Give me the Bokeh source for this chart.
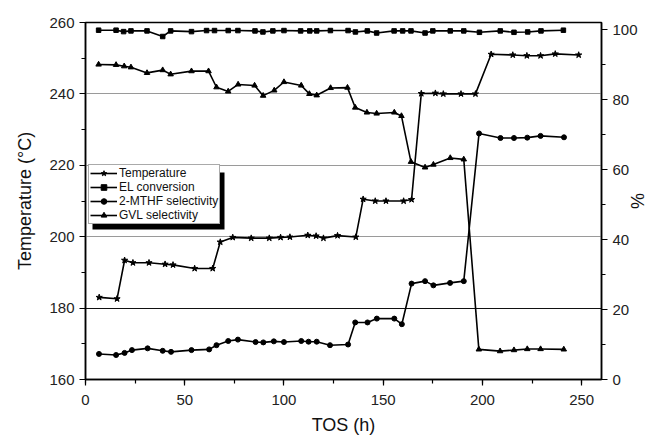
from bokeh.plotting import figure
from bokeh.models import (Range1d, LinearAxis, SingleIntervalTicker, Legend, LegendItem,
                          Grid, FixedTicker, BoxAnnotation)
from bokeh.embed import file_html
from bokeh.resources import INLINE

# ---- data ----
temp_t = [6.9, 15.9, 19.7, 23.9, 32, 40.1, 44.1, 55, 64.1, 67.9, 74.2, 83.5, 92.6, 98.3, 103,
          112, 116.2, 119.9, 127, 136.2, 139.9, 146, 151.4, 160.3, 164.3, 169.2, 176.3, 180.3,
          189.2, 196.5, 204.4, 215.3, 222.4, 229.3, 236.7, 248.5]
temp_c = [183.0, 182.6, 193.4, 192.7, 192.7, 192.3, 192.1, 191.1, 191.1, 198.5, 199.8, 199.6,
          199.6, 199.8, 199.9, 200.4, 200.2, 199.6, 200.3, 199.9, 210.5, 210.0, 210.0, 210.0,
          210.4, 240.1, 240.2, 240.0, 240.0, 240.0, 251.1, 250.9, 250.7, 250.7, 251.2, 250.9]

el_t = [6.6, 15.4, 19.2, 22.9, 31, 38.9, 42.9, 53.4, 61, 65, 71.9, 76.8, 85.4, 89.4, 94.4, 100,
        108.4, 113, 116.5, 123.4, 132.3, 136, 142, 146.7, 155.5, 159.8, 164, 171.1, 175, 183.8,
        190.6, 198.5, 209, 215.9, 222.8, 229.5, 240.8]
el_conv = [99.8, 99.8, 99.4, 99.6, 99.6, 98.0, 99.6, 99.4, 99.7, 99.7, 99.7, 99.7, 99.6, 99.3,
           99.6, 99.7, 99.6, 99.6, 99.6, 99.7, 99.7, 99.3, 99.6, 99.0, 99.6, 99.6, 99.6, 99.0,
           99.6, 99.6, 99.6, 99.2, 99.6, 99.2, 99.3, 99.6, 99.8]

mthf_t = [6.8, 15.4, 19.7, 23.4, 31.3, 38.9, 43.1, 53.4, 62.3, 66, 71.9, 76.8, 85.7, 89.6, 94.9,
          100, 108.7, 112.4, 116.5, 123.2, 132.3, 135.9, 142.1, 146.8, 155.6, 159.4, 164.3,
          171.1, 175.3, 183.7, 190.6, 198.3, 209.1, 215.9, 222.6, 229.3, 241.1]
mthf_sel = [7.3, 7.0, 7.6, 8.4, 8.9, 8.2, 7.9, 8.4, 8.6, 9.8, 11.0, 11.4, 10.7, 10.6, 10.9, 10.7,
            11.0, 10.8, 10.8, 9.8, 10.0, 16.3, 16.3, 17.4, 17.4, 15.8, 27.4, 28.1, 26.9, 27.6,
            28.1, 70.3, 69.0, 69.0, 69.1, 69.6, 69.2]

gvl_t = [6.6, 15.4, 19.5, 22.9, 31, 38.9, 42.9, 53.4, 62, 66, 71.9, 76.9, 85.2, 89.5, 95.1, 100,
         108.7, 112.8, 116.5, 123.5, 132, 135.9, 141.8, 146.7, 155.6, 159.2, 164, 171.1, 175.3,
         183.8, 190.6, 198.2, 208.9, 215.9, 222.6, 229.3, 241]
gvl_sel = [90.0, 89.9, 89.5, 89.2, 87.6, 88.4, 87.2, 88.1, 88.1, 83.5, 82.3, 84.3, 84.0, 81.1,
           82.6, 85.0, 84.0, 81.6, 81.2, 83.3, 83.4, 77.7, 76.3, 76.0, 76.3, 75.3, 62.2, 60.6,
           61.4, 63.3, 62.9, 8.6, 8.1, 8.4, 8.7, 8.7, 8.6]

series_labels = ["Temperature", "EL conversion", "2-MTHF selectivity", "GVL selectivity"]
grey_grid_ticks = [200, 220, 240]
dark_grid_ticks = [180]

FONT = "Liberation Sans"

p = figure(width=649, height=440, x_range=Range1d(0, 260), y_range=Range1d(160, 260),
           output_backend="svg", toolbar_location=None,
           min_border_left=85, min_border_right=48, min_border_top=22, min_border_bottom=61)
p.extra_y_ranges = {"pct": Range1d(0, 102)}

p.xgrid.visible = False
p.ygrid.visible = False
p.outline_line_color = "black"
p.outline_line_width = 1.5

p.add_layout(Grid(dimension=1, ticker=FixedTicker(ticks=grey_grid_ticks),
                  grid_line_color="#9a9a9a", grid_line_width=1.2), "center")
p.add_layout(Grid(dimension=1, ticker=FixedTicker(ticks=dark_grid_ticks),
                  grid_line_color="#111111", grid_line_width=1.2), "center")


def style_axis(ax):
    ax.axis_line_color = "black"
    ax.axis_line_width = 1.5
    ax.major_tick_line_color = "black"
    ax.minor_tick_line_color = "black"
    ax.major_tick_line_width = 1.2
    ax.minor_tick_line_width = 1.2
    ax.major_tick_in = 0
    ax.major_tick_out = 6
    ax.minor_tick_in = 0
    ax.minor_tick_out = 4
    ax.major_label_text_font = FONT
    ax.major_label_text_font_size = "15px"
    ax.major_label_text_color = "#222222"
    ax.axis_label_text_font = FONT
    ax.axis_label_text_font_size = "18px"
    ax.axis_label_text_font_style = "normal"
    ax.axis_label_text_color = "#111111"


p.xaxis.ticker = SingleIntervalTicker(interval=50, num_minor_ticks=2)
p.xaxis.axis_label = "TOS (h)"
style_axis(p.xaxis[0])
p.xaxis.major_label_standoff = 9
p.xaxis.axis_label_standoff = 7

p.yaxis.ticker = SingleIntervalTicker(interval=20, num_minor_ticks=2)
p.yaxis.axis_label = "Temperature (°C)"
style_axis(p.yaxis[0])
p.yaxis.axis_label_standoff = 11

right = LinearAxis(y_range_name="pct", axis_label="%",
                   ticker=SingleIntervalTicker(interval=20, num_minor_ticks=2))
style_axis(right)
right.axis_label_standoff = -14
p.add_layout(right, "right")

# series
lw = 1.6
l1 = p.line(temp_t, temp_c, line_color="black", line_width=lw)
s1 = p.scatter(temp_t, temp_c, marker="star", size=6.5, color="black")
l2 = p.line(el_t, el_conv, line_color="black", line_width=lw, y_range_name="pct")
s2 = p.scatter(el_t, el_conv, marker="square", size=4.5, color="black", y_range_name="pct")
l3 = p.line(mthf_t, mthf_sel, line_color="black", line_width=lw, y_range_name="pct")
s3 = p.scatter(mthf_t, mthf_sel, marker="circle", size=5, color="black", y_range_name="pct")
l4 = p.line(gvl_t, gvl_sel, line_color="black", line_width=lw, y_range_name="pct")
s4 = p.scatter(gvl_t, gvl_sel, marker="triangle", size=5.5, color="black", y_range_name="pct")

# legend shadow
shadow = BoxAnnotation(left=7, right=139, bottom=150, top=207,
                       left_units="screen", right_units="screen",
                       top_units="screen", bottom_units="screen",
                       fill_color="black", fill_alpha=1.0, line_color=None)
p.add_layout(shadow)

legend = Legend(items=[LegendItem(label=series_labels[0], renderers=[l1, s1]),
                       LegendItem(label=series_labels[1], renderers=[l2, s2]),
                       LegendItem(label=series_labels[2], renderers=[l3, s3]),
                       LegendItem(label=series_labels[3], renderers=[l4, s4])],
                location=(3, 155))
legend.label_text_font = FONT
legend.label_text_font_size = "12px"
legend.label_text_color = "#111111"
legend.glyph_width = 27
legend.glyph_height = 14
legend.label_height = 14
legend.label_standoff = 2
legend.spacing = 0
legend.padding = 1
legend.margin = 0
legend.border_line_color = "#555555"
legend.border_line_width = 1
legend.background_fill_color = "white"
legend.background_fill_alpha = 1.0
p.add_layout(legend, "center")

open("out.html", "w").write(file_html(p, INLINE))
